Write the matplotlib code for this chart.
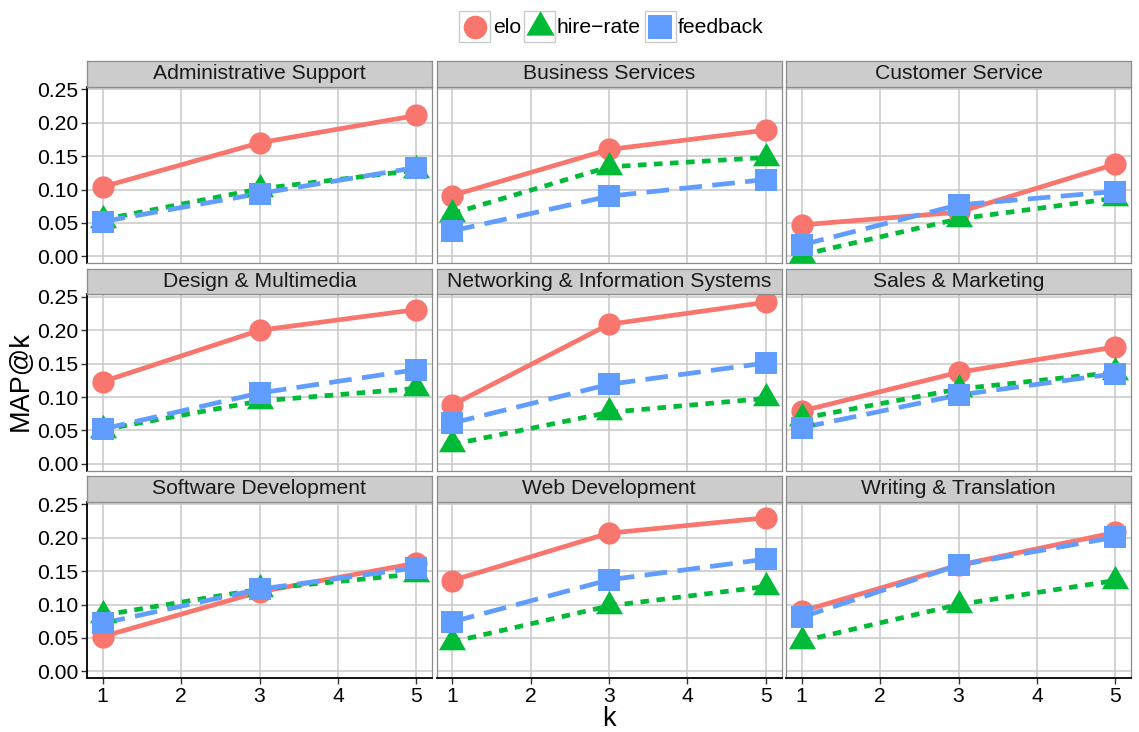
import matplotlib
matplotlib.use("Agg")
import matplotlib.pyplot as plt
from matplotlib.lines import Line2D
from matplotlib.patches import Rectangle

plt.rcParams['font.family'] = ['Liberation Sans', 'DejaVu Sans']

categories = ["Administrative Support", "Business Services", "Customer Service",
              "Design & Multimedia", "Networking & Information Systems", "Sales & Marketing",
              "Software Development", "Web Development", "Writing & Translation"]
k_values = [1, 3, 5]

# MAP@k per category, at k = 1, 3, 5
elo = [[0.104, 0.170, 0.211], [0.091, 0.160, 0.189], [0.047, 0.066, 0.138],
       [0.123, 0.200, 0.231], [0.088, 0.209, 0.242], [0.079, 0.137, 0.175],
       [0.052, 0.119, 0.162], [0.136, 0.207, 0.230], [0.090, 0.159, 0.208]]
hire_rate = [[0.055, 0.101, 0.129], [0.064, 0.134, 0.148], [0.002, 0.056, 0.087],
             [0.051, 0.094, 0.113], [0.029, 0.077, 0.098], [0.068, 0.112, 0.137],
             [0.084, 0.123, 0.146], [0.044, 0.098, 0.127], [0.045, 0.100, 0.136]]
feedback = [[0.052, 0.094, 0.133], [0.038, 0.090, 0.115], [0.017, 0.077, 0.097],
            [0.052, 0.106, 0.141], [0.061, 0.119, 0.151], [0.054, 0.103, 0.135],
            [0.072, 0.123, 0.155], [0.074, 0.137, 0.168], [0.081, 0.159, 0.201]]

series_names = ["elo", "hire\u2212rate", "feedback"]
colors = ["#F8766D", "#00BA38", "#619CFF"]
# R-style filled triangle, centred on its centroid
tri = [(0, 1.555), (-1.347, -0.778), (1.347, -0.778)]
markers = ["o", tri, "s"]
msizes = [16, 22.5, 16.5]
lw = 3.4
dash_styles = ["-", (0, (1.8, 1.6)), (0, (4.8, 2.2))]

W, H = 1139, 732
fig = plt.figure(figsize=(W / 100, H / 100), dpi=100)


def box(x0, y0, w, h):
    return [x0 / W, 1 - (y0 + h) / H, w / W, h / H]


col_left = [87, 436.5, 786]
panel_w = 345
panel_top = [86.7, 294.2, 501.7]
panel_h = 176.3
strip_h = 25.5
FS = 15.2
grid_c = "#C8C8C8"
border_c = "#8C8C8C"

for i, cat in enumerate(categories):
    r, c = divmod(i, 3)
    ax = fig.add_axes(box(col_left[c], panel_top[r], panel_w, panel_h))
    ax.set_xlim(0.8, 5.2)
    ax.set_ylim(-0.0101, 0.2541)
    ax.set_xticks([1, 2, 3, 4, 5])
    ax.set_yticks([0, 0.05, 0.10, 0.15, 0.20, 0.25])
    ax.grid(True, color=grid_c, linewidth=1.1)
    ax.set_axisbelow(True)
    for sp in ax.spines.values():
        sp.set_color(border_c)
        sp.set_linewidth(0.9)

    series = [elo[i], hire_rate[i], feedback[i]]
    for s, vals in enumerate(series):
        ax.plot(k_values, vals, color=colors[s], linestyle=dash_styles[s],
                linewidth=lw, zorder=2 + s * 0.1)
    for s, vals in enumerate(series):
        ax.plot(k_values, vals, linestyle="none", marker=markers[s],
                markersize=msizes[s], color=colors[s], markeredgewidth=0,
                zorder=3 + s * 0.1)

    ax.tick_params(length=0, labelsize=FS, labelcolor="black")
    if c == 0:
        ax.tick_params(axis="y", length=4.3, width=1.0, color="#333333", pad=2)
        ax.set_yticklabels(["0.00", "0.05", "0.10", "0.15", "0.20", "0.25"])
        ax.spines["left"].set_color("black")
        ax.spines["left"].set_linewidth(1.3)
    else:
        ax.tick_params(axis="y", labelleft=False)
    if r == 2:
        ax.tick_params(axis="x", length=4.3, width=1.0, color="#333333", pad=2)
        ax.spines["bottom"].set_color("black")
        ax.spines["bottom"].set_linewidth(1.3)
    else:
        ax.tick_params(axis="x", labelbottom=False)

    # facet strip
    sax = fig.add_axes(box(col_left[c], panel_top[r] - strip_h, panel_w, strip_h))
    sax.set_facecolor("#CCCCCC")
    sax.set_xticks([])
    sax.set_yticks([])
    for sp in sax.spines.values():
        sp.set_color(border_c)
        sp.set_linewidth(0.9)
    sax.text(0.5, 0.5, cat, ha="center", va="center", fontsize=FS,
             color="#1A1A1A", transform=sax.transAxes)

fig.text(21 / W, 1 - 381 / H, "MAP@k", rotation=90, ha="center", va="center", fontsize=19.5)
fig.text(609 / W, 1 - 719 / H, "k", ha="center", va="center", fontsize=19.5)

# legend across the top
key_left = [459, 524, 645]
key_size = 31
text_x = [493, 557, 678]
for s in range(3):
    fig.add_artist(Rectangle((key_left[s] / W, 1 - 42 / H), key_size / W, key_size / H,
                             transform=fig.transFigure, facecolor="white",
                             edgecolor="#CCCCCC", linewidth=1.0))
    cx = (key_left[s] + key_size / 2) / W
    fig.add_artist(Line2D([cx], [1 - 27 / H], transform=fig.transFigure,
                          marker=markers[s], markersize=msizes[s] + 1,
                          color=colors[s], markeredgewidth=0, linestyle="none"))
    fig.text(text_x[s] / W, 1 - 27.5 / H, series_names[s], ha="left", va="center",
             fontsize=FS)

fig.savefig("out.png", dpi=100)
